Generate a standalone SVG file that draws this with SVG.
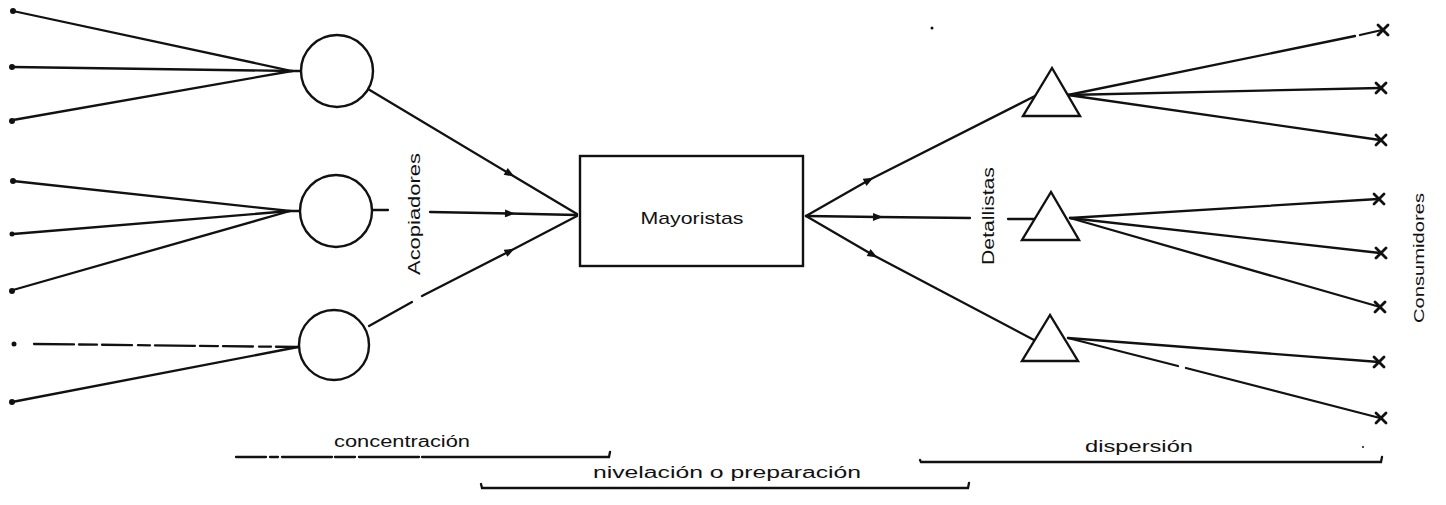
<svg xmlns="http://www.w3.org/2000/svg" width="1446" height="505" viewBox="0 0 1446 505">
  <style>
    .ln { fill: none; stroke: #111; stroke-width: 2.3; stroke-linecap: round; }
    .shape { fill: #fff; stroke: #111; stroke-width: 2.4; }
    .lbl { font-family: "Liberation Sans", Arial, sans-serif; fill: #111; }
    .src { fill: #111; }
    .cons { stroke: #111; stroke-width: 2.8; stroke-linecap: round; }
  </style>
  <defs>
    <marker id="arr" viewBox="0 0 10 8" refX="5" refY="4" markerWidth="11" markerHeight="8" markerUnits="userSpaceOnUse" orient="auto">
      <path d="M0,0 L10,4 L0,8 Z" fill="#111"/>
    </marker>
    <g id="xmark">
      <line x1="-5" y1="-5" x2="5" y2="5" class="cons"/>
      <line x1="-5" y1="5" x2="5" y2="-5" class="cons"/>
    </g>
  </defs>
  <rect width="1446" height="505" fill="#fff"/>

  <!-- connectors -->
  <g id="connectors">
    <!-- producers to collectors -->
    <path class="ln" d="M13,11 L292,71 L301,71"/>
    <path class="ln" d="M13,67 L292,71"/>
    <path class="ln" d="M13,120 L292,71"/>
    <path class="ln" d="M13,181 L290,211 L300,211"/>
    <path class="ln" d="M13,234 L290,211"/>
    <path class="ln" d="M13,290 L290,211"/>
    <path class="ln" d="M34,344 L298,347" stroke-width="1.8" stroke-dasharray="40 5 18 5 30 6 12 5"/>
    <path class="ln" d="M12,402 L298,347"/>

    <!-- collectors to wholesalers -->
    <path class="ln" d="M368,89 L510,174 L577,214" marker-mid="url(#arr)"/>
    <path class="ln" d="M373,210 L388,210"/>
    <path class="ln" d="M430,212 L510,213.5 L577,215" marker-mid="url(#arr)"/>
    <path class="ln" d="M369,326 L412,302"/>
    <path class="ln" d="M422,296 L510,251 L577,216" marker-mid="url(#arr)"/>

    <!-- wholesalers to retailers -->
    <path class="ln" d="M806,216 L869,180 L1035,96" marker-mid="url(#arr)"/>
    <path class="ln" d="M806,216 L878,217 L970,218" marker-mid="url(#arr)"/>
    <path class="ln" d="M1008,219 L1035,219"/>
    <path class="ln" d="M806,216 L873,255 L1034,340" marker-mid="url(#arr)"/>

    <!-- retailers to consumers -->
    <path class="ln" d="M1068,95 L1355,36"/>
    <path class="ln" d="M1360,35 L1382,30"/>
    <path class="ln" d="M1068,95 L1380,88"/>
    <path class="ln" d="M1068,95 L1380,140"/>
    <path class="ln" d="M1070,218 L1378,199"/>
    <path class="ln" d="M1070,218 L1380,253"/>
    <path class="ln" d="M1070,218 L1380,307"/>
    <path class="ln" d="M1068,338 L1379,362"/>
    <path class="ln" d="M1068,338 L1178,366"/>
    <path class="ln" d="M1186,368 L1380,418"/>
  </g>

  <!-- producers (origin points) -->
  <g id="producers">
    <circle class="src" cx="13" cy="11" r="3"/>
    <circle class="src" cx="12" cy="67" r="3"/>
    <circle class="src" cx="12" cy="121" r="3"/>
    <circle class="src" cx="13" cy="181" r="3"/>
    <circle class="src" cx="12" cy="234" r="2.5"/>
    <circle class="src" cx="12" cy="291" r="3"/>
    <circle class="src" cx="14" cy="344" r="2.5"/>
    <circle class="src" cx="12" cy="402" r="3"/>
  </g>

  <!-- collectors -->
  <g id="acopiador-1"><circle class="shape" cx="337" cy="71" r="36"/></g>
  <g id="acopiador-2"><circle class="shape" cx="336" cy="211" r="36"/></g>
  <g id="acopiador-3"><circle class="shape" cx="334" cy="345" r="35"/></g>
  <g id="acopiadores-label">
    <text class="lbl" font-size="16" transform="translate(420,214) rotate(-90)" text-anchor="middle" textLength="122" lengthAdjust="spacingAndGlyphs">Acopiadores</text>
  </g>

  <!-- wholesalers -->
  <g id="mayoristas">
    <rect class="shape" x="580" y="156" width="223" height="110"/>
    <text class="lbl" x="692" y="224" font-size="17" text-anchor="middle" textLength="103" lengthAdjust="spacingAndGlyphs">Mayoristas</text>
  </g>

  <!-- retailers -->
  <g id="detallista-1"><polygon class="shape" points="1052,68 1023,116 1080,116"/></g>
  <g id="detallista-2"><polygon class="shape" points="1051,192 1022,240 1079,240"/></g>
  <g id="detallista-3"><polygon class="shape" points="1050,315 1022,361 1078,361"/></g>
  <g id="detallistas-label">
    <text class="lbl" font-size="16" transform="translate(994,216) rotate(-90)" text-anchor="middle" textLength="98" lengthAdjust="spacingAndGlyphs">Detallistas</text>
  </g>

  <!-- consumers -->
  <g id="consumidores">
    <use href="#xmark" x="1383" y="30"/>
    <use href="#xmark" x="1381" y="88"/>
    <use href="#xmark" x="1381" y="140"/>
    <use href="#xmark" x="1379" y="199"/>
    <use href="#xmark" x="1381" y="253"/>
    <use href="#xmark" x="1380" y="307"/>
    <use href="#xmark" x="1379" y="362"/>
    <use href="#xmark" x="1381" y="418"/>
    <text class="lbl" font-size="15" transform="translate(1424,258) rotate(-90)" text-anchor="middle" textLength="130" lengthAdjust="spacingAndGlyphs">Consumidores</text>
  </g>

  <!-- stage brackets -->
  <g id="concentracion">
    <text class="lbl" x="402" y="447" font-size="16" text-anchor="middle" textLength="136" lengthAdjust="spacingAndGlyphs">concentración</text>
    <path class="ln" d="M236,457 L609,457 L610,452" stroke-dasharray="30 4 8 4 50 3 20 4 60 3 400"/>
  </g>
  <g id="nivelacion">
    <text class="lbl" x="727" y="478" font-size="16" text-anchor="middle" textLength="268" lengthAdjust="spacingAndGlyphs">nivelación o preparación</text>
    <path class="ln" d="M481,484 L482,488 L968,488 L969,483"/>
  </g>
  <g id="dispersion">
    <text class="lbl" x="1139" y="452" font-size="16" text-anchor="middle" textLength="108" lengthAdjust="spacingAndGlyphs">dispersión</text>
    <path class="ln" d="M920,460 L921,462 L1381,462 L1382,457"/>
  </g>
  <circle class="src" cx="932" cy="28" r="1.5"/>
  <circle class="src" cx="1363" cy="447" r="1"/>
</svg>
